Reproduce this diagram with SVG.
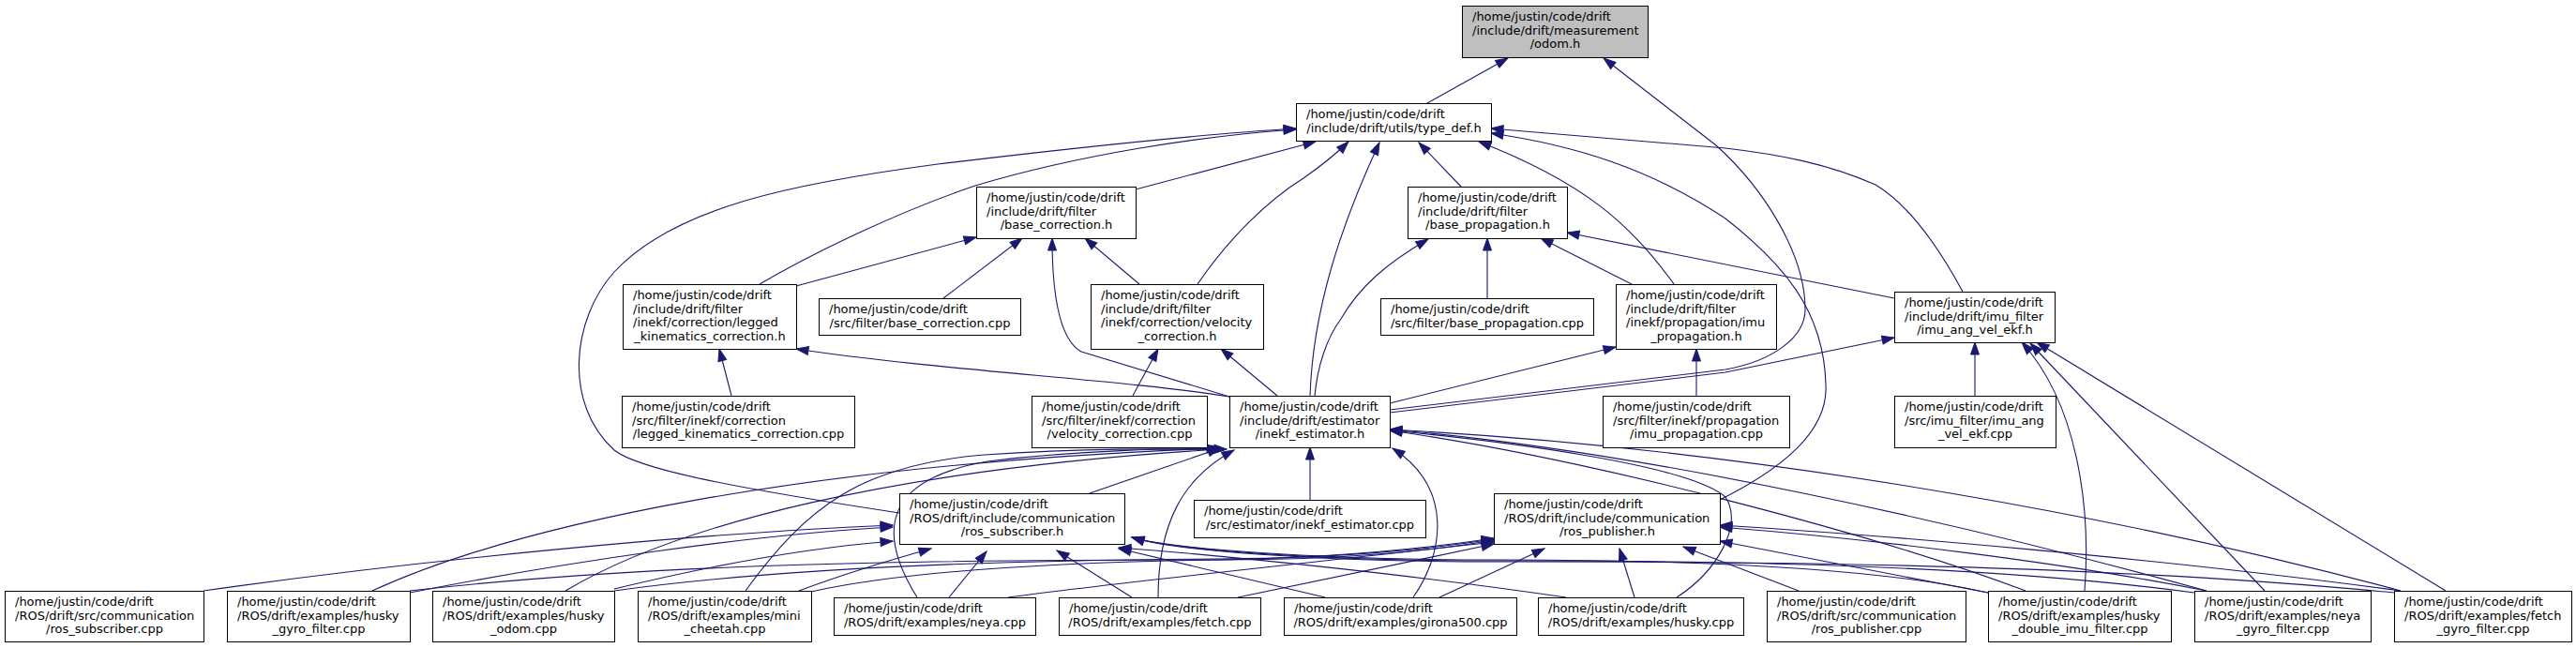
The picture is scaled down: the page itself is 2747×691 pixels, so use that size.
<svg xmlns="http://www.w3.org/2000/svg" width="2747" height="691" viewBox="0 0 2747 691">
<defs>
<style>
.n rect{fill:#ffffff;stroke:#000000;stroke-width:1}
.root rect{fill:#bfbfbf}
.n text{font-family:"DejaVu Sans","Liberation Sans",sans-serif;font-size:13px;fill:#000000}
.c{text-anchor:middle}
.e path{fill:none;stroke:#191970;stroke-width:1.1;marker-end:url(#arr)}
</style>
<marker id="arr" markerWidth="15" markerHeight="11" refX="13" refY="5" orient="auto" markerUnits="userSpaceOnUse" overflow="visible">
<path d="M0,0.5 L13,5 L0,9.5 Z" fill="#191970" stroke="#191970" stroke-width="1"/>
</marker>
</defs>
<rect width="2747" height="691" fill="#ffffff"/>
<g id="edges" class="e">
<path d="M1522,110 L1608,62"/>
<path d="M1482,437 L1840,394 C1890,385 1925,360 1925,330 C1925,270 1880,200 1830,155 L1710,62"/>
<path d="M1211,202 L1403,151"/>
<path d="M1558,199 L1513,152"/>
<path d="M810,303 C870,268 960,225 1040,198 C1150,165 1280,145 1382,138"/>
<path d="M959,547 C780,520 680,500 655,480 C600,430 610,340 655,290 C720,220 850,195 1000,175 C1150,157 1300,142 1382,137"/>
<path d="M1277,303 C1310,255 1350,215 1390,190 C1410,176 1425,164 1438,151"/>
<path d="M1397,422 C1400,330 1430,240 1471,152"/>
<path d="M1785,303 C1740,240 1690,195 1577,151"/>
<path d="M2093,311 C2060,250 2030,215 2000,197 C1950,175 1900,165 1840,158 L1590,137"/>
<path d="M1834,533 C1900,500 1950,460 1947,410 C1945,330 1900,280 1840,233 C1760,180 1680,155 1590,142"/>
<path d="M849,305 L1041,253"/>
<path d="M1006,318 L1090,254"/>
<path d="M1215,303 L1157,254"/>
<path d="M1311,423 L1153,375 C1135,365 1122,330 1122,254"/>
<path d="M1586,318 L1586,254"/>
<path d="M1740,303 L1643,254"/>
<path d="M2020,318 L1671,248"/>
<path d="M1402,422 C1405,390 1415,360 1430,340 C1450,305 1480,280 1523,255"/>
<path d="M780,422 L767,372"/>
<path d="M1311,423 C1200,405 1000,395 849,372"/>
<path d="M1208,422 L1235,372"/>
<path d="M1362,422 L1302,372"/>
<path d="M1809,422 L1809,372"/>
<path d="M1482,430 L1723,370"/>
<path d="M2106,422 L2106,365"/>
<path d="M1482,440 L1840,397 L2020,360"/>
<path d="M2223,630 C2230,540 2215,430 2156,365"/>
<path d="M2415,630 L2165,366"/>
<path d="M2608,630 L2172,365"/>
<path d="M1397,533 L1397,477"/>
<path d="M1162,526 L1301,478"/>
<path d="M1235,637 C1235,560 1260,510 1316,480"/>
<path d="M1507,637 C1540,590 1550,520 1485,478"/>
<path d="M397,630 C550,560 850,495 1300,478"/>
<path d="M603,630 C720,560 950,500 1302,479"/>
<path d="M795,630 C860,540 920,495 1050,485 C1150,478 1250,478 1305,480"/>
<path d="M978,637 C930,560 950,510 1053,492 C1150,480 1250,478 1308,479"/>
<path d="M1788,637 C1830,610 1860,560 1840,530 C1800,495 1600,470 1482,459"/>
<path d="M2160,630 C2000,570 1700,490 1482,459"/>
<path d="M2353,630 C2100,560 1750,480 1482,458"/>
<path d="M2560,630 C2300,560 1900,480 1482,458"/>
<path d="M217,630 C450,597 750,568 952,560"/>
<path d="M437,632 C600,600 800,570 952,562"/>
<path d="M655,628 C750,605 850,585 952,577"/>
<path d="M852,630 C900,612 950,597 993,585"/>
<path d="M1012,637 L1052,588"/>
<path d="M1207,637 L1127,587"/>
<path d="M1413,637 L1193,585"/>
<path d="M1670,637 C1500,612 1300,592 1193,584"/>
<path d="M2120,632 C2000,605 1800,597 1600,597 C1400,597 1250,585 1207,573"/>
<path d="M2340,632 C2100,600 1800,598 1600,598 C1400,598 1250,586 1207,573"/>
<path d="M2553,632 C2200,598 1800,599 1600,599 C1400,599 1250,587 1207,573"/>
<path d="M437,630 C700,600 1000,597 1300,597 C1450,597 1540,585 1593,576"/>
<path d="M655,630 C850,603 1100,597 1300,596 C1450,595 1540,583 1593,575"/>
<path d="M865,631 C950,612 1100,600 1300,597 C1450,594 1540,582 1593,574"/>
<path d="M1075,637 C1200,620 1400,600 1593,578"/>
<path d="M1320,637 C1400,620 1500,600 1593,580"/>
<path d="M1535,637 L1647,585"/>
<path d="M1743,637 L1727,585"/>
<path d="M1918,630 L1795,583"/>
<path d="M2120,632 L1834,577"/>
<path d="M2353,630 C2200,600 2000,575 1834,562"/>
<path d="M2560,630 C2300,595 2000,570 1834,560"/>
</g>
<g id="n_odom" class="n root"><rect x="1559.5" y="6.5" width="198" height="55"/><text x="1570" y="22">/home/justin/code/drift</text><text x="1570" y="36.5">/include/drift/measurement</text><text class="c" x="1658.5" y="51">/odom.h</text></g>
<g id="n_type_def" class="n"><rect x="1382.5" y="110.5" width="208" height="40"/><text x="1393" y="126">/home/justin/code/drift</text><text class="c" x="1486.5" y="140.5">/include/drift/utils/type_def.h</text></g>
<g id="n_base_correction_h" class="n"><rect x="1041.5" y="199.5" width="170" height="55"/><text x="1052" y="215">/home/justin/code/drift</text><text x="1052" y="229.5">/include/drift/filter</text><text class="c" x="1126.5" y="244">/base_correction.h</text></g>
<g id="n_base_propagation_h" class="n"><rect x="1501.5" y="199.5" width="170" height="55"/><text x="1512" y="215">/home/justin/code/drift</text><text x="1512" y="229.5">/include/drift/filter</text><text class="c" x="1586.5" y="244">/base_propagation.h</text></g>
<g id="n_legged_h" class="n"><rect x="664.5" y="303.5" width="185" height="69"/><text x="675" y="319">/home/justin/code/drift</text><text x="675" y="333.5">/include/drift/filter</text><text x="675" y="348">/inekf/correction/legged</text><text class="c" x="757" y="362.5">_kinematics_correction.h</text></g>
<g id="n_base_correction_cpp" class="n"><rect x="873.5" y="318.5" width="215" height="39"/><text x="884" y="334">/home/justin/code/drift</text><text class="c" x="981" y="348.5">/src/filter/base_correction.cpp</text></g>
<g id="n_velocity_h" class="n"><rect x="1163.5" y="303.5" width="184" height="69"/><text x="1174" y="319">/home/justin/code/drift</text><text x="1174" y="333.5">/include/drift/filter</text><text x="1174" y="348">/inekf/correction/velocity</text><text class="c" x="1255.5" y="362.5">_correction.h</text></g>
<g id="n_base_propagation_cpp" class="n"><rect x="1472.5" y="318.5" width="227" height="39"/><text x="1483" y="334">/home/justin/code/drift</text><text class="c" x="1586" y="348.5">/src/filter/base_propagation.cpp</text></g>
<g id="n_imu_propagation_h" class="n"><rect x="1723.5" y="303.5" width="171" height="69"/><text x="1734" y="319">/home/justin/code/drift</text><text x="1734" y="333.5">/include/drift/filter</text><text x="1734" y="348">/inekf/propagation/imu</text><text class="c" x="1809" y="362.5">_propagation.h</text></g>
<g id="n_imu_ang_vel_h" class="n"><rect x="2020.5" y="311.5" width="171" height="54"/><text x="2031" y="327">/home/justin/code/drift</text><text x="2031" y="341.5">/include/drift/imu_filter</text><text class="c" x="2106" y="356">/imu_ang_vel_ekf.h</text></g>
<g id="n_legged_cpp" class="n"><rect x="663.5" y="422.5" width="248" height="55"/><text x="674" y="438">/home/justin/code/drift</text><text x="674" y="452.5">/src/filter/inekf/correction</text><text class="c" x="787.5" y="467">/legged_kinematics_correction.cpp</text></g>
<g id="n_velocity_cpp" class="n"><rect x="1100.5" y="422.5" width="187" height="55"/><text x="1111" y="438">/home/justin/code/drift</text><text x="1111" y="452.5">/src/filter/inekf/correction</text><text class="c" x="1194" y="467">/velocity_correction.cpp</text></g>
<g id="n_inekf_h" class="n"><rect x="1311.5" y="422.5" width="171" height="55"/><text x="1322" y="438">/home/justin/code/drift</text><text x="1322" y="452.5">/include/drift/estimator</text><text class="c" x="1397" y="467">/inekf_estimator.h</text></g>
<g id="n_imu_propagation_cpp" class="n"><rect x="1709.5" y="422.5" width="199" height="55"/><text x="1720" y="438">/home/justin/code/drift</text><text x="1720" y="452.5">/src/filter/inekf/propagation</text><text class="c" x="1809" y="467">/imu_propagation.cpp</text></g>
<g id="n_imu_ang_vel_cpp" class="n"><rect x="2020.5" y="422.5" width="172" height="55"/><text x="2031" y="438">/home/justin/code/drift</text><text x="2031" y="452.5">/src/imu_filter/imu_ang</text><text class="c" x="2106.5" y="467">_vel_ekf.cpp</text></g>
<g id="n_ros_subscriber_h" class="n"><rect x="959.5" y="526.5" width="240" height="54"/><text x="970" y="542">/home/justin/code/drift</text><text x="970" y="556.5">/ROS/drift/include/communication</text><text class="c" x="1079.5" y="571">/ros_subscriber.h</text></g>
<g id="n_inekf_cpp" class="n"><rect x="1273.5" y="533.5" width="247" height="40"/><text x="1284" y="549">/home/justin/code/drift</text><text class="c" x="1397" y="563.5">/src/estimator/inekf_estimator.cpp</text></g>
<g id="n_ros_publisher_h" class="n"><rect x="1593.5" y="526.5" width="241" height="54"/><text x="1604" y="542">/home/justin/code/drift</text><text x="1604" y="556.5">/ROS/drift/include/communication</text><text class="c" x="1714" y="571">/ros_publisher.h</text></g>
<g id="n_ros_subscriber_cpp" class="n"><rect x="5.5" y="630.5" width="212" height="54"/><text x="16" y="646">/home/justin/code/drift</text><text x="16" y="660.5">/ROS/drift/src/communication</text><text class="c" x="111.5" y="675">/ros_subscriber.cpp</text></g>
<g id="n_husky_gyro" class="n"><rect x="242.5" y="630.5" width="195" height="54"/><text x="253" y="646">/home/justin/code/drift</text><text x="253" y="660.5">/ROS/drift/examples/husky</text><text class="c" x="340" y="675">_gyro_filter.cpp</text></g>
<g id="n_husky_odom" class="n"><rect x="461.5" y="630.5" width="194" height="54"/><text x="472" y="646">/home/justin/code/drift</text><text x="472" y="660.5">/ROS/drift/examples/husky</text><text class="c" x="558.5" y="675">_odom.cpp</text></g>
<g id="n_mini_cheetah" class="n"><rect x="680.5" y="630.5" width="185" height="54"/><text x="691" y="646">/home/justin/code/drift</text><text x="691" y="660.5">/ROS/drift/examples/mini</text><text class="c" x="773" y="675">_cheetah.cpp</text></g>
<g id="n_neya" class="n"><rect x="889.5" y="637.5" width="215" height="40"/><text x="900" y="653">/home/justin/code/drift</text><text class="c" x="997" y="667.5">/ROS/drift/examples/neya.cpp</text></g>
<g id="n_fetch" class="n"><rect x="1129.5" y="637.5" width="215" height="40"/><text x="1140" y="653">/home/justin/code/drift</text><text class="c" x="1237" y="667.5">/ROS/drift/examples/fetch.cpp</text></g>
<g id="n_girona" class="n"><rect x="1369.5" y="637.5" width="248" height="40"/><text x="1380" y="653">/home/justin/code/drift</text><text class="c" x="1493.5" y="667.5">/ROS/drift/examples/girona500.cpp</text></g>
<g id="n_husky" class="n"><rect x="1640.5" y="637.5" width="219" height="40"/><text x="1651" y="653">/home/justin/code/drift</text><text class="c" x="1750" y="667.5">/ROS/drift/examples/husky.cpp</text></g>
<g id="n_ros_publisher_cpp" class="n"><rect x="1884.5" y="630.5" width="212" height="54"/><text x="1895" y="646">/home/justin/code/drift</text><text x="1895" y="660.5">/ROS/drift/src/communication</text><text class="c" x="1990.5" y="675">/ros_publisher.cpp</text></g>
<g id="n_husky_double" class="n"><rect x="2120.5" y="630.5" width="195" height="54"/><text x="2131" y="646">/home/justin/code/drift</text><text x="2131" y="660.5">/ROS/drift/examples/husky</text><text class="c" x="2218" y="675">_double_imu_filter.cpp</text></g>
<g id="n_neya_gyro" class="n"><rect x="2340.5" y="630.5" width="188" height="54"/><text x="2351" y="646">/home/justin/code/drift</text><text x="2351" y="660.5">/ROS/drift/examples/neya</text><text class="c" x="2434.5" y="675">_gyro_filter.cpp</text></g>
<g id="n_fetch_gyro" class="n"><rect x="2553.5" y="630.5" width="189" height="54"/><text x="2564" y="646">/home/justin/code/drift</text><text x="2564" y="660.5">/ROS/drift/examples/fetch</text><text class="c" x="2648" y="675">_gyro_filter.cpp</text></g>
</svg>
